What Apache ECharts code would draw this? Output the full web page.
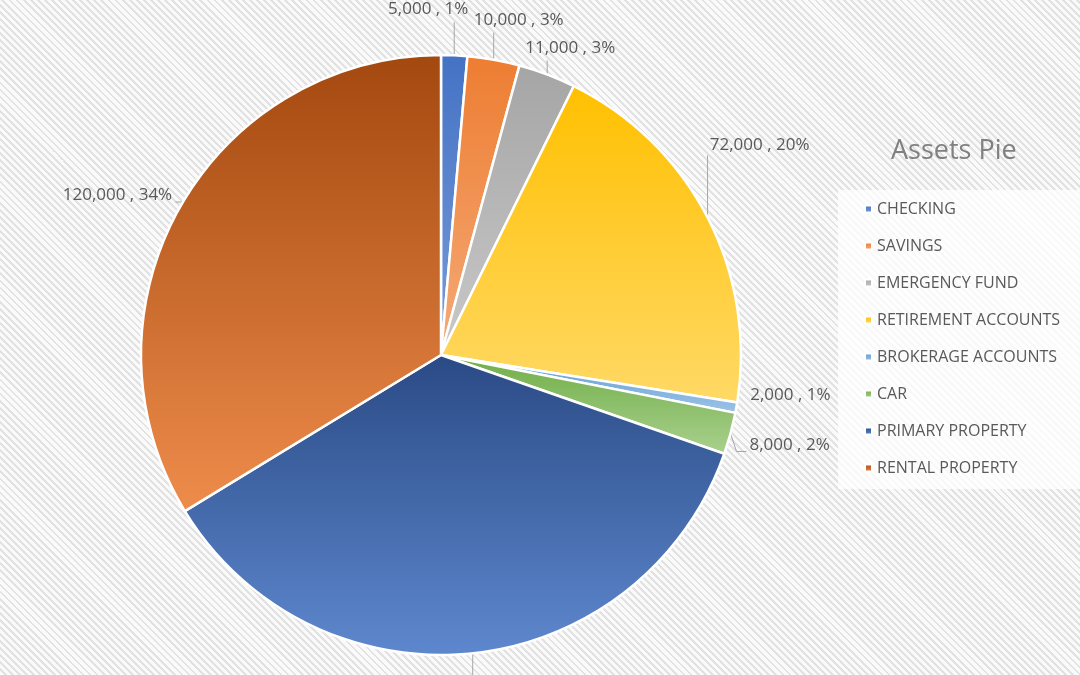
<!DOCTYPE html>
<html>
<head>
<meta charset="utf-8">
<script src="https://cdn.jsdelivr.net/npm/echarts@6/dist/echarts.min.js"></script>
<style>
html,body{margin:0;padding:0;width:1080px;height:675px;overflow:hidden;
background:repeating-linear-gradient(45deg,#fafafa 0px,#fafafa 3px,#e2e2e2 3px,#e2e2e2 5px);}
#c{width:1080px;height:780px;}
</style>
</head>
<body>
<div id="c"></div>
<script>
const categories = ['CHECKING','SAVINGS','EMERGENCY FUND','RETIREMENT ACCOUNTS','BROKERAGE ACCOUNTS','CAR','PRIMARY PROPERTY','RENTAL PROPERTY'];
const values = [5000, 10000, 11000, 72000, 2000, 8000, 128000, 120000];
const topColors = ['#4472C4','#ED7D31','#A5A5A5','#FFC000','#5B9BD5','#70AD47','#2A4A85','#A3480F'];
const bottomColors = ['#7A9CDA','#F5AA78','#C9C9C9','#FFD966','#9DC3E6','#A9D18E','#5E88CE','#EE8C4B'];
// label centre offset from the slice's outer edge point (style only)
const labelOffsets = [[-26,-46],[25,-40],[23,-26],[52,-72],[54,-13],[59,12],[0,70],[-62,-13]];
// leader line bends relative to the edge point (style only)
const lineBends = [[[0,-33]],[[0,-27]],[[0,-14]],[[0,-62]],[],[[6,18],[16,18]],[[0,45]],[[3,-6],[-4,-6]]];
const chartTitle = 'Assets Pie';

const total = values.reduce((a,b)=>a+b,0);
const fmt = v => v.toLocaleString('en-US');

const data = categories.map((n,i)=>({
  name:n, value:values[i],
  itemStyle:{color:{type:'linear',x:0,y:0,x2:0,y2:1,colorStops:[{offset:0,color:topColors[i]},{offset:1,color:bottomColors[i]}]}}
}));

const chart = echarts.init(document.getElementById('c'));
chart.setOption({
  animation:false,
  backgroundColor:'transparent',
  color:topColors,
  title:{text:chartTitle,left:886,top:133,textStyle:{fontFamily:'Open Sans',fontSize:27,fontWeight:'normal',color:'#808080'}},
  legend:{
    orient:'vertical',left:838,top:190,
    data:categories,
    icon:'rect',itemWidth:7,itemHeight:7,itemGap:21,
    padding:[11,23,13,26],
    backgroundColor:'rgba(255,255,255,0.75)',
    textStyle:{fontFamily:'Open Sans',fontSize:16,color:'#595959'}
  },
  series:[{
    type:'pie',
    center:[441,355],
    radius:300,
    startAngle:90,
    clockwise:true,
    avoidLabelOverlap:false,
    itemStyle:{borderColor:'#ffffff',borderWidth:2.5},
    label:{
      show:true,position:'outside',
      fontFamily:'Open Sans',fontSize:17,color:'#595959',
      formatter:p=>fmt(p.value)+' , '+Math.round(p.value/total*100)+'%'
    },
    labelLine:{show:true,length:10,length2:5,lineStyle:{color:'#a6a6a6',width:1}},
    labelLayout:p=>{
      const i=p.dataIndex;
      const e=p.labelLinePoints[0];
      const pts=[[e[0],e[1]]].concat(lineBends[i].map(b=>[e[0]+b[0],e[1]+b[1]]));
      while(pts.length<3) pts.push(pts[pts.length-1].slice());
      return {
        x:e[0]+labelOffsets[i][0], y:e[1]+labelOffsets[i][1],
        align:'center', verticalAlign:'middle',
        labelLinePoints:pts
      };
    },
    emphasis:{disabled:true},
    data:data
  }]
});
</script>
</body>
</html>
